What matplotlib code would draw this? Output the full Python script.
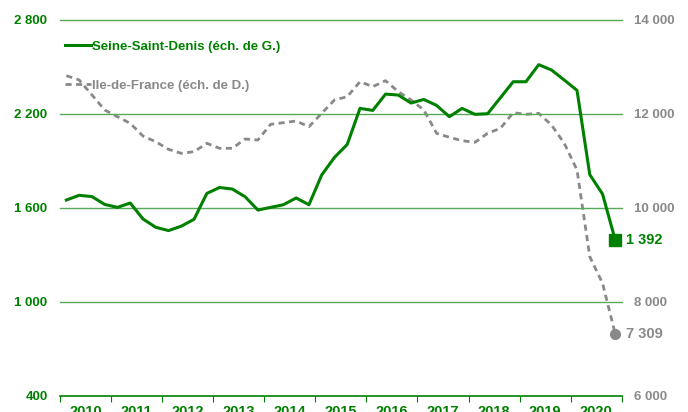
import numpy as np
import matplotlib.pyplot as plt
from matplotlib.lines import Line2D

# Quarterly series, 2010 Q1 -> 2020 Q4
years = list(range(2010, 2021))
ssd = [1649, 1679, 1671, 1621, 1602, 1630, 1528, 1475, 1454, 1482, 1526,
       1691, 1729, 1719, 1670, 1585, 1602, 1619, 1662, 1619, 1809, 1921,
       2004, 2234, 2221, 2325, 2319, 2268, 2291, 2253, 2181, 2234, 2196,
       2200, 2302, 2404, 2404, 2513, 2479, 2415, 2349, 1811, 1687, 1392]
idf = [12809, 12717, 12400, 12079, 11936, 11795, 11525, 11404, 11242, 11157, 11191,
       11370, 11264, 11264, 11462, 11440, 11774, 11809, 11845, 11723, 12008, 12292,
       12362, 12681, 12575, 12703, 12468, 12292, 12079, 11583, 11498, 11426, 11391,
       11583, 11689, 12021, 11987, 12008, 11760, 11370, 10802, 8958, 8392, 7309]

green = '#008000'
grid_green = '#5aa95a'
gray = '#898989'

x = 2010 + (np.arange(len(ssd)) + 0.5) / 4

plt.rcParams['font.family'] = ['Liberation Sans', 'DejaVu Sans']
fig = plt.figure(figsize=(6.88, 4.12), dpi=100)
ax = fig.add_axes([60 / 688, 16.3 / 412, 561.7 / 688, 376 / 412])
ax2 = ax.twinx()

ax.set_xlim(2010, 2021)
ax.set_ylim(400, 2800)
ax2.set_ylim(6000, 14000)

for v in [1000, 1600, 2200, 2800]:
    ax.axhline(v, color=grid_green, lw=1, zorder=0, clip_on=False)

l1, = ax.plot(x, ssd, color=green, lw=2.2, zorder=3)
ax.plot(x[-1], ssd[-1], marker='s', color=green, ms=8, zorder=4)
l2, = ax2.plot(x, idf, color=gray, lw=2, ls=(0, (2.2, 1.6)), zorder=2)
ax2.plot(x[-1], idf[-1], marker='o', color=gray, ms=7, zorder=4)
ax.set_zorder(ax2.get_zorder() + 1)
ax.patch.set_visible(False)

ax.annotate('1 392', (x[-1], ssd[-1]), xytext=(8, 0), textcoords='offset points',
            va='center', ha='left', color=green, fontsize=10.5, fontweight='bold')
ax2.annotate('7 309', (x[-1], idf[-1]), xytext=(8, 0), textcoords='offset points',
             va='center', ha='left', color=gray, fontsize=10.5, fontweight='bold')

for s in ['top', 'left', 'right']:
    ax.spines[s].set_visible(False)
    ax2.spines[s].set_visible(False)
ax2.spines['bottom'].set_visible(False)
ax.spines['bottom'].set_color(green)
ax.spines['bottom'].set_linewidth(1.2)

ax.set_yticks([400, 1000, 1600, 2200, 2800])
ax.set_yticklabels(['400', '1 000', '1 600', '2 200', '2 800'])
ax.tick_params(axis='y', length=0, pad=9, labelcolor=green, labelsize=9.5)
for t in ax.get_yticklabels():
    t.set_fontweight('bold')

ax2.set_yticks([6000, 8000, 10000, 12000, 14000])
ax2.set_yticklabels(['6 000', '8 000', '10 000', '12 000', '14 000'])
ax2.tick_params(axis='y', length=0, pad=9, labelcolor=gray, labelsize=9.5)
for t in ax2.get_yticklabels():
    t.set_fontweight('bold')

ax.set_xticks(range(2010, 2022))
ax.set_xticklabels([])
ax.set_xticks([y + 0.5 for y in years], minor=True)
ax.set_xticklabels([str(y) for y in years], minor=True)
ax.tick_params(axis='x', which='major', length=4, color=green, direction='out')
ax.tick_params(axis='x', which='minor', length=0, pad=7, labelcolor=green, labelsize=10.5)
for t in ax.get_xticklabels(minor=True):
    t.set_fontweight('bold')

h1 = Line2D([], [], color=green, lw=2.2)
h2 = Line2D([], [], color=gray, lw=2, ls=(0, (2.2, 1.6)))
leg = ax.legend([h1, h2], ['Seine-Saint-Denis (éch. de G.)', 'Ile-de-France (éch. de D.)'],
                loc='upper left', bbox_to_anchor=(-0.006, 0.965), frameon=False,
                handlelength=2.0, handletextpad=0.1, labelspacing=2.0,
                borderaxespad=0.2, prop={'size': 9.5, 'weight': 'bold'},
                labelcolor=[green, gray])

fig.savefig('out.png', dpi=100)
